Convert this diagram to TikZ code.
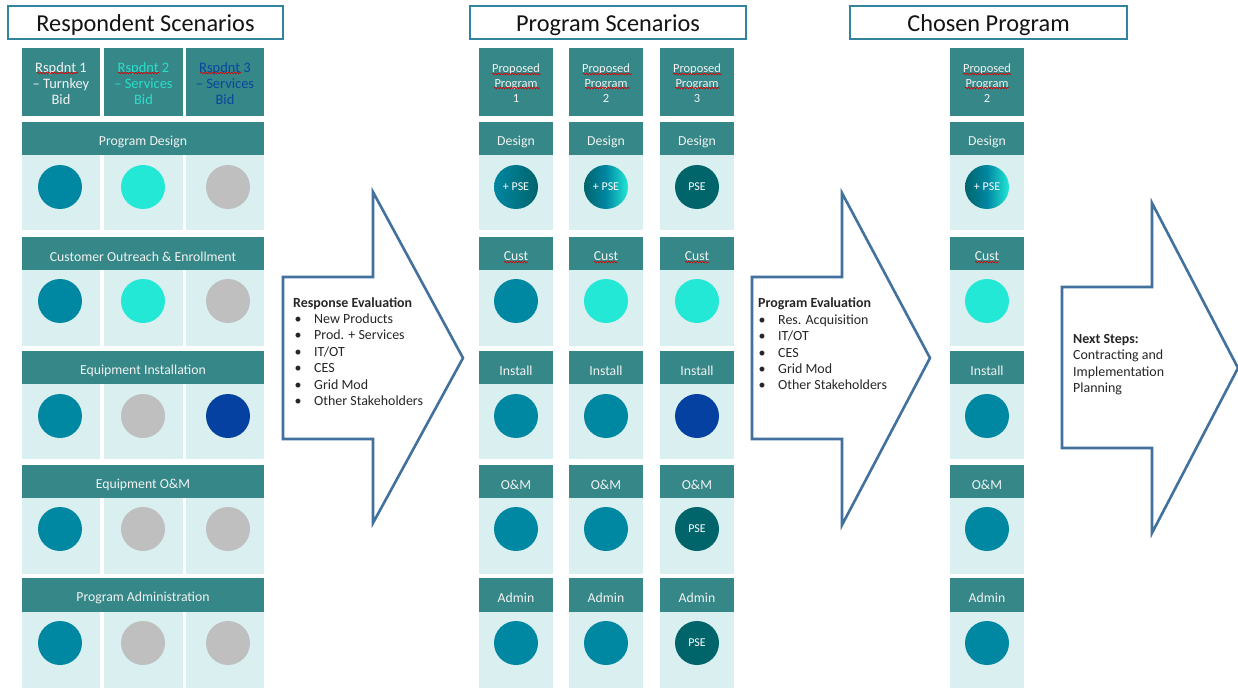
\documentclass[tikz,border=0pt]{standalone}
\usepackage{fontspec}
\setmainfont{Carlito}
\usetikzlibrary{decorations.pathmorphing}
\definecolor{hdr}{HTML}{358788}
\definecolor{cellbg}{HTML}{DAEFF0}
\definecolor{cblue}{HTML}{0087A2}
\definecolor{ccyan}{HTML}{22E8D5}
\definecolor{ccyantxt}{HTML}{2BDDCB}
\definecolor{cgray}{HTML}{BFBFBF}
\definecolor{cnavy}{HTML}{0541A0}
\definecolor{cnavytxt}{HTML}{0B45A0}
\definecolor{cdark}{HTML}{00646B}
\definecolor{arrowc}{HTML}{41719C}
\definecolor{titlec}{HTML}{31849B}
\definecolor{txtw}{HTML}{F2F2F2}
\definecolor{bodytxt}{HTML}{262626}
% box with text: style, name, x1, y1, x2, y2, text, downward text shift
\newcommand\mkbox[8]{%
  \pgfmathsetmacro\bw{#5-#3}\pgfmathsetmacro\bh{#6-#4}%
  \node[#1, minimum width=\bw bp, minimum height=\bh bp] (#2) at ({(#3+#5)/2},{(#4+#6)/2}) {};
  \node[#1, fill=none, draw=none, minimum width=0pt, minimum height=0pt, yshift=-#8bp] (#2-txt) at (#2.center) {#7};}
% plain box: style, name, x1, y1, x2, y2
\newcommand\mkcell[6]{%
  \pgfmathsetmacro\bw{#5-#3}\pgfmathsetmacro\bh{#6-#4}%
  \node[#1, minimum width=\bw bp, minimum height=\bh bp] (#2) at ({(#3+#5)/2},{(#4+#6)/2}) {};}
\newcommand\bltA{\makebox[21bp][l]{\hspace*{1.5bp}•}}
\newcommand\bltB{\makebox[20bp][l]{\hspace*{0.5bp}•}}
\tikzset{
  hdrbox/.style={fill=hdr, inner sep=0, text=txtw, font=\fontsize{13.8}{16}\selectfont, align=center},
  rspbox/.style={fill=hdr, inner sep=0, text=txtw, font=\fontsize{14.5}{16}\selectfont, align=center},
  propbox/.style={fill=hdr, inner sep=0, text=txtw, font=\fontsize{12.5}{15}\selectfont, align=center},
  cellbox/.style={fill=cellbg, inner sep=0},
  dot/.style={circle, minimum size=44bp, inner sep=0, text=white, font=\fontsize{12}{14}\selectfont},
  titlebox/.style={draw=titlec, line width=1.2bp, fill=white, inner sep=0, font=\fontsize{24.4}{28}\selectfont, text=black!92},
  bigarrow/.style={draw=arrowc, line width=2.6bp, fill=white, line join=miter},
  evaltext/.style={inner sep=0, align=left, text=bodytxt, font=\fontsize{14}{16.5}\selectfont},
  squig/.style={draw=red!85!black, line width=0.6bp, decorate, decoration={snake, amplitude=0.8bp, segment length=2.8bp}},
  grad1/.style={left color=cblue, right color=cdark},
  grad2/.style={left color=cdark, right color=ccyan, middle color=cblue}
}
\begin{document}
\begin{tikzpicture}[x=1bp, y=-1bp]
\useasboundingbox (0,0) rectangle (1238,688);
\fill[white] (0,0) rectangle (1238,688);

% ---------- titles ----------
\mkbox{titlebox}{T1}{8}{6}{283}{39}{Respondent Scenarios}{3}
\mkbox{titlebox}{T2}{470}{6}{746}{39}{Program Scenarios}{3}
\mkbox{titlebox}{T3}{850}{6}{1127}{39}{Chosen Program}{3}

% ---------- left: respondent scenarios ----------
\mkbox{rspbox}{L-t1}{22}{48}{100}{116}{Rspdnt 1\\– Turnkey\\Bid}{1.5}
\mkbox{rspbox, text=ccyantxt}{L-t2}{104}{48}{183}{116}{Rspdnt 2\\– Services\\Bid}{1.5}
\mkbox{rspbox, text=cnavytxt}{L-t3}{186}{48}{264}{116}{Rspdnt 3\\– Services\\Bid}{1.5}
\foreach \r/\ya/\yb/\yc/\t in {1/122/155/230/Program Design, 2/237/270/346/Customer Outreach \& Enrollment, 3/351/384/459/Equipment Installation, 4/465/498/574/Equipment O\&M, 5/578/612/688/Program Administration}{
  \mkbox{hdrbox}{L-h\r}{22}{\ya}{264}{\yb}{\t}{3}
  \mkcell{cellbox}{L-b\r-1}{22}{\yb}{100}{\yc}
  \mkcell{cellbox}{L-b\r-2}{104}{\yb}{183}{\yc}
  \mkcell{cellbox}{L-b\r-3}{186}{\yb}{264}{\yc}
}
\foreach \r/\y/\ca/\cb/\cc in {1/187/cblue/ccyan/cgray, 2/301/cblue/ccyan/cgray, 3/416/cblue/cgray/cnavy, 4/529/cblue/cgray/cgray, 5/643/cblue/cgray/cgray}{
  \node[dot, fill=\ca] (L-c\r-1) at (60,\y) {};
  \node[dot, fill=\cb] (L-c\r-2) at (143,\y) {};
  \node[dot, fill=\cc] (L-c\r-3) at (228,\y) {};
}

% ---------- middle: program scenarios ----------
\foreach \k/\xa/\xb in {1/479/553, 2/569/643, 3/660/734}{
  \mkbox{propbox}{M-t\k}{\xa}{48}{\xb}{116}{Proposed\\Program\\\k}{1}
  \foreach \r/\ya/\yb/\yc/\t in {1/122/155/230/Design, 2/237/270/346/Cust, 3/351/384/459/Install, 4/465/498/574/O\&M, 5/578/612/688/Admin}{
    \mkbox{hdrbox}{M-h\r-\k}{\xa}{\ya}{\xb}{\yb}{\t}{3}
    \mkcell{cellbox}{M-b\r-\k}{\xa}{\yb}{\xb}{\yc}
  }
}
\node[dot, grad1] (M-c1-1) at (516,187) {+ PSE};
\node[dot, grad2] (M-c1-2) at (606,187) {+ PSE};
\node[dot, fill=cdark] (M-c1-3) at (697,187) {PSE};
\foreach \r/\y/\ca/\cb/\cc/\tc in {2/301/cblue/ccyan/ccyan/{}, 3/416/cblue/cblue/cnavy/{}, 4/529/cblue/cblue/cdark/PSE, 5/643/cblue/cblue/cdark/PSE}{
  \node[dot, fill=\ca] (M-c\r-1) at (516,\y) {};
  \node[dot, fill=\cb] (M-c\r-2) at (606,\y) {};
  \node[dot, fill=\cc] (M-c\r-3) at (697,\y) {\tc};
}

% ---------- right: chosen program ----------
\mkbox{propbox}{C-t}{950}{48}{1024}{116}{Proposed\\Program\\2}{1}
\foreach \r/\ya/\yb/\yc/\t in {1/122/155/230/Design, 2/237/270/346/Cust, 3/351/384/459/Install, 4/465/498/574/O\&M, 5/578/612/688/Admin}{
  \mkbox{hdrbox}{C-h\r}{950}{\ya}{1024}{\yb}{\t}{3}
  \mkcell{cellbox}{C-b\r}{950}{\yb}{1024}{\yc}
}
\node[dot, grad2] (C-c1) at (987,187) {+ PSE};
\foreach \r/\y/\ca in {2/301/ccyan, 3/416/cblue, 4/529/cblue, 5/643/cblue}{
  \node[dot, fill=\ca] (C-c\r) at (987,\y) {};
}

% ---------- spell-check squiggles ----------
\foreach \xa/\xb/\y in {37/78/73, 118/159/73, 200/241/73,
  492/541/74, 494/540/88, 583/632/74, 585/630/88, 673/722/74, 675/720/88,
  963/1011/74, 965/1009/88,
  504/528/262, 594/618/262, 685/709/262, 975/999/262}{
  \draw[squig] (\xa,\y) -- (\xb,\y);
}

% ---------- arrows ----------
\draw[bigarrow] (283,277) -- (373,277) -- (373,192) -- (463,358) -- (373,523) -- (373,439) -- (283,439) -- cycle;
\node[evaltext, anchor=west] (E1) at (293,351.5) {\textbf{Response Evaluation}\\
  \bltA New Products\\ \bltA Prod. + Services\\ \bltA IT/OT\\ \bltA CES\\ \bltA Grid Mod\\ \bltA Other Stakeholders};

\draw[bigarrow] (752,277) -- (842,277) -- (842,193) -- (930,358) -- (842,525) -- (842,439) -- (752,439) -- cycle;
\node[evaltext, anchor=west] (E2) at (758,344) {\textbf{Program Evaluation}\\
  \bltB Res. Acquisition\\ \bltB IT/OT\\ \bltB CES\\ \bltB Grid Mod\\ \bltB Other Stakeholders};

\draw[bigarrow] (1062,287) -- (1152,287) -- (1152,203) -- (1238,368) -- (1152,533) -- (1152,448) -- (1062,448) -- cycle;
\node[evaltext, anchor=west] (E3) at (1073,364.5) {\textbf{Next Steps:}\\Contracting and\\Implementation\\Planning};
\end{tikzpicture}
\end{document}
